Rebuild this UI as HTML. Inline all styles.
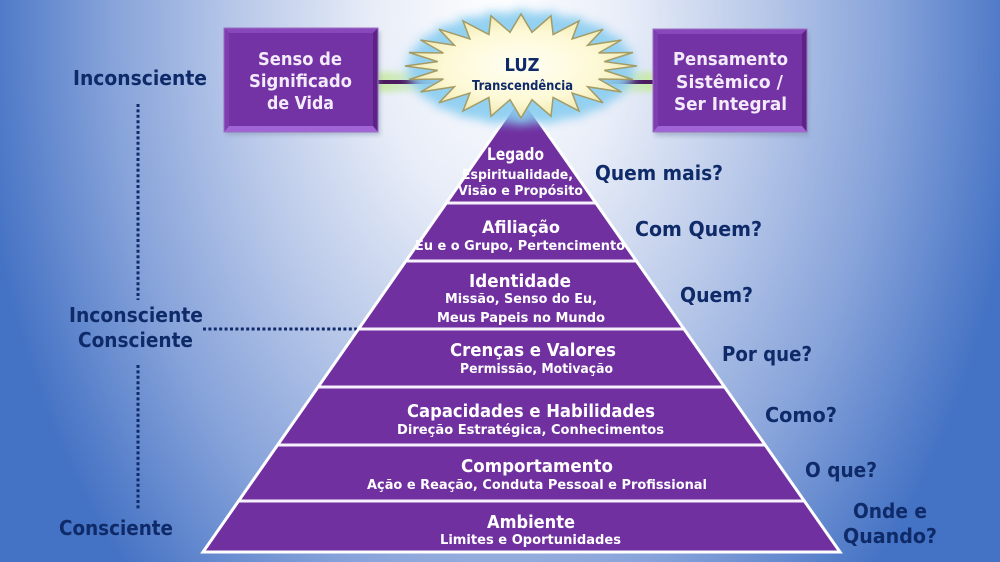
<!DOCTYPE html>
<html><head><meta charset="utf-8"><style>
html,body{margin:0;padding:0;}
#bg{position:relative;width:1000px;height:562px;overflow:hidden;
background:radial-gradient(ellipse 525px 780px at 500px 25px,#ffffff 0%,#e8edf8 24%,#bccbea 48%,#87a3da 74%,#4472c4 100%);}
svg{position:absolute;left:0;top:0;}
.nv{font-family:"DejaVu Sans","Liberation Sans",sans-serif;font-weight:bold;font-size:20px;fill:#0f2a68;}
.bx{font-family:"DejaVu Sans","Liberation Sans",sans-serif;font-weight:bold;font-size:18px;fill:#f3eafa;}
.pt{font-family:"DejaVu Sans","Liberation Sans",sans-serif;font-weight:bold;font-size:18px;fill:#ffffff;}
.ps{font-family:"DejaVu Sans","Liberation Sans",sans-serif;font-weight:bold;font-size:13.5px;fill:#ffffff;}
.st{font-family:"DejaVu Sans","Liberation Sans",sans-serif;font-weight:bold;fill:#0f2a68;}
</style></head><body>
<div id="bg">
<svg width="1000" height="562" viewBox="0 0 1000 562" xmlns="http://www.w3.org/2000/svg">
<defs>
<filter id="blur7" x="-30%" y="-50%" width="160%" height="200%"><feGaussianBlur stdDeviation="5"/></filter>
<filter id="blur3" x="-30%" y="-100%" width="160%" height="300%"><feGaussianBlur stdDeviation="3"/></filter>
<filter id="sh" x="-10%" y="-10%" width="130%" height="130%"><feGaussianBlur stdDeviation="2"/></filter>
<radialGradient id="starg" cx="50%" cy="50%" r="55%">
<stop offset="0" stop-color="#fffff4"/><stop offset="0.6" stop-color="#fdf9d6"/><stop offset="1" stop-color="#ece3a4"/>
</radialGradient>
<linearGradient id="lg" x1="0" x2="1" y1="0" y2="0">
<stop offset="0" stop-color="#c9ea9c" stop-opacity="0.95"/><stop offset="1" stop-color="#bfe6c8" stop-opacity="0.3"/>
</linearGradient>
<linearGradient id="rg" x1="1" x2="0" y1="0" y2="0">
<stop offset="0" stop-color="#c9ea9c" stop-opacity="0.95"/><stop offset="1" stop-color="#bfe6c8" stop-opacity="0.3"/>
</linearGradient>
<clipPath id="pyr"><polygon points="521,96 203,552 840,552"/></clipPath>
</defs>

<!-- dotted lines -->
<g stroke="#102a6b" stroke-width="3" stroke-dasharray="3 2.4" fill="none">
<line x1="138" y1="104" x2="138" y2="300"/>
<line x1="138" y1="365" x2="138" y2="510"/>
<line x1="203" y1="329" x2="357" y2="329"/>
</g>

<!-- left labels -->
<text class="nv" x="140" y="85" text-anchor="middle" textLength="134" lengthAdjust="spacingAndGlyphs">Inconsciente</text>
<text class="nv" x="136" y="322" text-anchor="middle" textLength="134" lengthAdjust="spacingAndGlyphs">Inconsciente</text>
<text class="nv" x="135.5" y="347" text-anchor="middle" textLength="115" lengthAdjust="spacingAndGlyphs">Consciente</text>
<text class="nv" x="116" y="535" text-anchor="middle" textLength="114" lengthAdjust="spacingAndGlyphs">Consciente</text>

<!-- right questions -->
<text class="nv" x="659" y="180" text-anchor="middle" textLength="128" lengthAdjust="spacingAndGlyphs">Quem mais?</text>
<text class="nv" x="698.5" y="236" text-anchor="middle" textLength="127" lengthAdjust="spacingAndGlyphs">Com Quem?</text>
<text class="nv" x="716.5" y="302" text-anchor="middle" textLength="73" lengthAdjust="spacingAndGlyphs">Quem?</text>
<text class="nv" x="767" y="361" text-anchor="middle" textLength="90" lengthAdjust="spacingAndGlyphs">Por que?</text>
<text class="nv" x="801" y="422" text-anchor="middle" textLength="72" lengthAdjust="spacingAndGlyphs">Como?</text>
<text class="nv" x="841" y="477" text-anchor="middle" textLength="72" lengthAdjust="spacingAndGlyphs">O que?</text>
<text class="nv" x="890" y="518" text-anchor="middle" textLength="74" lengthAdjust="spacingAndGlyphs">Onde e</text>
<text class="nv" x="890" y="543" text-anchor="middle" textLength="94" lengthAdjust="spacingAndGlyphs">Quando?</text>

<!-- pyramid -->
<polygon points="521,96 203,552 840,552" fill="#7030a0"/>
<g clip-path="url(#pyr)" stroke="#f6f0fb" stroke-width="3">
<line x1="150" y1="203" x2="900" y2="203"/>
<line x1="150" y1="261" x2="900" y2="261"/>
<line x1="150" y1="329" x2="900" y2="329"/>
<line x1="150" y1="387" x2="900" y2="387"/>
<line x1="150" y1="445" x2="900" y2="445"/>
<line x1="150" y1="501" x2="900" y2="501"/>
</g>
<polygon points="521,96 203,552 840,552" fill="none" stroke="#ffffff" stroke-width="3" stroke-linejoin="miter"/>

<!-- pyramid text -->
<text class="pt" style="font-size:17px" x="515.5" y="160" text-anchor="middle" textLength="57" lengthAdjust="spacingAndGlyphs">Legado</text>
<text class="ps" x="517.5" y="179" text-anchor="middle" textLength="111" lengthAdjust="spacingAndGlyphs">Espiritualidade,</text>
<text class="ps" x="520.5" y="195" text-anchor="middle" textLength="125" lengthAdjust="spacingAndGlyphs">Visão e Propósito</text>
<text class="pt" style="font-size:17px" x="521" y="233" text-anchor="middle" textLength="78" lengthAdjust="spacingAndGlyphs">Afiliação</text>
<text class="ps" x="520" y="250" text-anchor="middle" textLength="210" lengthAdjust="spacingAndGlyphs">Eu e o Grupo, Pertencimento</text>
<text class="pt" x="520" y="287" text-anchor="middle" textLength="102" lengthAdjust="spacingAndGlyphs">Identidade</text>
<text class="ps" x="521" y="303" text-anchor="middle" textLength="152" lengthAdjust="spacingAndGlyphs">Missão, Senso do Eu,</text>
<text class="ps" x="521" y="322" text-anchor="middle" textLength="168" lengthAdjust="spacingAndGlyphs">Meus Papeis no Mundo</text>
<text class="pt" x="533" y="356" text-anchor="middle" textLength="166" lengthAdjust="spacingAndGlyphs">Crenças e Valores</text>
<text class="ps" x="536.5" y="373" text-anchor="middle" textLength="153" lengthAdjust="spacingAndGlyphs">Permissão, Motivação</text>
<text class="pt" x="531" y="417" text-anchor="middle" textLength="248" lengthAdjust="spacingAndGlyphs">Capacidades e Habilidades</text>
<text class="ps" x="530.5" y="434" text-anchor="middle" textLength="267" lengthAdjust="spacingAndGlyphs">Direção Estratégica, Conhecimentos</text>
<text class="pt" x="537" y="472" text-anchor="middle" textLength="152" lengthAdjust="spacingAndGlyphs">Comportamento</text>
<text class="ps" x="537" y="489" text-anchor="middle" textLength="340" lengthAdjust="spacingAndGlyphs">Ação e Reação, Conduta Pessoal e Profissional</text>
<text class="pt" x="531" y="528" text-anchor="middle" textLength="88" lengthAdjust="spacingAndGlyphs">Ambiente</text>
<text class="ps" x="530.5" y="544" text-anchor="middle" textLength="181" lengthAdjust="spacingAndGlyphs">Limites e Oportunidades</text>

<!-- connectors -->
<rect x="378" y="72" width="60" height="20" fill="url(#lg)" filter="url(#blur3)"/>
<rect x="604" y="72" width="50" height="20" fill="url(#rg)" filter="url(#blur3)"/>
<line x1="378" y1="82" x2="440" y2="82" stroke="#4c1a5e" stroke-width="4"/>
<line x1="600" y1="82" x2="654" y2="82" stroke="#4c1a5e" stroke-width="4"/>

<!-- boxes -->
<g>
<rect x="226" y="31" width="154" height="104" fill="#7a8aa8" opacity="0.45" filter="url(#sh)"/>
<rect x="224" y="28" width="154" height="104" fill="#7333a5"/>
<polygon points="224,28 378,28 373,33 229,33" fill="#8848bb"/>
<polygon points="224,28 229,33 229,126 224,132" fill="#7e3eb0"/>
<polygon points="378,28 373,33 373,126 378,132" fill="#5c2286"/>
<polygon points="224,132 378,132 373,126 229,126" fill="#a064d6"/>
<rect x="224" y="28" width="154" height="104" fill="none" stroke="#9a70c0" stroke-width="1"/>
</g>
<g>
<rect x="655" y="32" width="154" height="104" fill="#7a8aa8" opacity="0.45" filter="url(#sh)"/>
<rect x="653" y="29" width="154" height="103" fill="#7333a5"/>
<polygon points="653,29 807,29 802,34 658,34" fill="#8848bb"/>
<polygon points="653,29 658,34 658,126 653,132" fill="#7e3eb0"/>
<polygon points="807,29 802,34 802,126 807,132" fill="#5c2286"/>
<polygon points="653,132 807,132 802,126 658,126" fill="#a064d6"/>
<rect x="653" y="29" width="154" height="103" fill="none" stroke="#9a70c0" stroke-width="1"/>
</g>
<text class="bx" x="300" y="65" text-anchor="middle" textLength="84" lengthAdjust="spacingAndGlyphs">Senso de</text>
<text class="bx" x="300.5" y="87" text-anchor="middle" textLength="103" lengthAdjust="spacingAndGlyphs">Significado</text>
<text class="bx" x="300.5" y="109" text-anchor="middle" textLength="67" lengthAdjust="spacingAndGlyphs">de Vida</text>
<text class="bx" x="730.5" y="65" text-anchor="middle" textLength="115" lengthAdjust="spacingAndGlyphs">Pensamento</text>
<text class="bx" x="729.5" y="88" text-anchor="middle" textLength="107" lengthAdjust="spacingAndGlyphs">Sistêmico /</text>
<text class="bx" x="730.5" y="110" text-anchor="middle" textLength="113" lengthAdjust="spacingAndGlyphs">Ser Integral</text>

<!-- star glow -->
<ellipse cx="521" cy="68" rx="112" ry="56" fill="#86cbef" opacity="0.85" filter="url(#blur7)"/>
<path transform="translate(521,66) scale(1.06,1.12) translate(-521,-66)" d="M637,66 L604.3,70.4 L633,79.5 L598.6,79 L621.5,92 L587.6,86.7 L603,102.8 L572.1,93 L579,111 L553.1,97.4 L551,116.2 L532,99.7 L521,118 L510,99.7 L491,116.2 L488.9,97.4 L463,111 L469.9,93 L439,102.8 L454.4,86.7 L420.5,92 L443.4,79 L409,79.5 L437.7,70.4 L405,66 L437.7,61.6 L409,52.5 L443.4,53 L420.5,40 L454.4,45.3 L439,29.2 L469.9,39 L463,21 L488.9,34.6 L491,15.8 L510,32.3 L521,14 L532,32.3 L551,15.8 L553.1,34.6 L579,21 L572.1,39 L603,29.2 L587.6,45.3 L621.5,40 L598.6,53 L633,52.5 L604.3,61.6 Z" fill="#8fd0f2" opacity="0.9" filter="url(#blur7)"/>
<!-- star -->
<path d="M637,66 L604.3,70.4 L633,79.5 L598.6,79 L621.5,92 L587.6,86.7 L603,102.8 L572.1,93 L579,111 L553.1,97.4 L551,116.2 L532,99.7 L521,118 L510,99.7 L491,116.2 L488.9,97.4 L463,111 L469.9,93 L439,102.8 L454.4,86.7 L420.5,92 L443.4,79 L409,79.5 L437.7,70.4 L405,66 L437.7,61.6 L409,52.5 L443.4,53 L420.5,40 L454.4,45.3 L439,29.2 L469.9,39 L463,21 L488.9,34.6 L491,15.8 L510,32.3 L521,14 L532,32.3 L551,15.8 L553.1,34.6 L579,21 L572.1,39 L603,29.2 L587.6,45.3 L621.5,40 L598.6,53 L633,52.5 L604.3,61.6 Z" fill="url(#starg)" stroke="#a49c66" stroke-width="1.5" stroke-linejoin="miter"/>
<text class="st" x="522" y="71" text-anchor="middle" font-size="18" textLength="35" lengthAdjust="spacingAndGlyphs">LUZ</text>
<text class="st" x="522.5" y="90" text-anchor="middle" font-size="13" textLength="101" lengthAdjust="spacingAndGlyphs">Transcendência</text>
</svg>
</div>
</body></html>
